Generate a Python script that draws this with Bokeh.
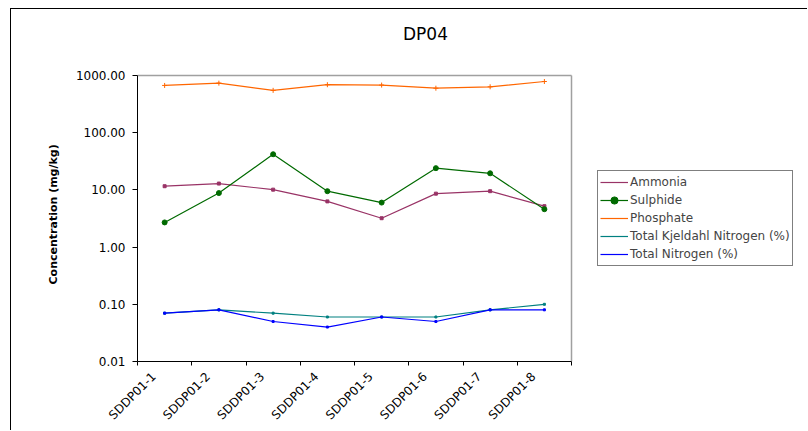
import math
from bokeh.plotting import figure
from bokeh.models import (Range1d, FixedTicker, PrintfTickFormatter, Legend,
                          LegendItem, Label, Title)
from bokeh.embed import file_html
from bokeh.resources import INLINE

categories = ["SDDP01-1", "SDDP01-2", "SDDP01-3", "SDDP01-4",
              "SDDP01-5", "SDDP01-6", "SDDP01-7", "SDDP01-8"]
ammonia = [11.6, 12.9, 10.1, 6.3, 3.2, 8.6, 9.5, 5.2]
sulphide = [2.7, 8.8, 42.0, 9.5, 6.0, 24.0, 19.5, 4.6]
phosphate = [670, 735, 550, 690, 680, 600, 635, 785]
tkn = [0.07, 0.08, 0.07, 0.06, 0.06, 0.06, 0.08, 0.10]
tn = [0.07, 0.08, 0.05, 0.04, 0.06, 0.05, 0.08, 0.08]
y_ticks = [0.01, 0.1, 1, 10, 100, 1000]
title_text = "DP04"
y_title = "Concentration (mg/kg)"

FONT = "DejaVu Sans"
n = len(categories)
xs = [i + 0.5 for i in range(n)]

# layout constants (pixels)
W, H = 797, 422          # canvas, placed at page (11, 9)
LEFT = 126               # canvas x of the plot area's left edge
PLOT_W = 434             # width of the category area
TOP_PAD = 66             # space above the 1000 line
DECADE = 286 / 5         # pixels per decade
x_end = n * (W - LEFT) / PLOT_W
y_end = y_ticks[-1] * 10 ** (TOP_PAD / DECADE)

p = figure(width=W, height=H, output_backend="svg", toolbar_location=None,
           x_range=Range1d(0, x_end), y_range=Range1d(y_ticks[0], y_end),
           y_axis_type="log", min_border_left=LEFT, min_border_right=0,
           min_border_top=0, min_border_bottom=70,
           background_fill_color="white", border_fill_color="white")
p.styles = {"margin-left": "10px", "margin-top": "8px",
            "border-left": "1px solid black", "border-top": "1px solid black"}

p.outline_line_color = None
p.grid.visible = False

# chart title
title = Label(x=n * (425 - 137) / PLOT_W, y=y_ticks[-1] * 10 ** (42 / DECADE),
              text=title_text, text_font=FONT, text_font_size="17px",
              text_color="black", text_align="center", text_baseline="middle")
p.add_layout(title)

# y-axis title, positioned along the 0.01..1000 part of the axis
ytitle = Title(text=y_title, align="left", offset=77, standoff=26,
               text_font=FONT, text_font_size="11px", text_font_style="bold",
               text_color="black")
p.add_layout(ytitle, "left")

# plot-area border (gray) on the top and right of the category area
p.segment(x0=[0, n], y0=[y_ticks[-1], y_ticks[0]], x1=[n, n],
          y1=[y_ticks[-1], y_ticks[-1]], line_color="#a0a0a0", line_width=1.5)

# y axis
p.yaxis.bounds = (y_ticks[0], y_ticks[-1])
p.yaxis.ticker = FixedTicker(ticks=y_ticks, minor_ticks=[])
p.yaxis.formatter = PrintfTickFormatter(format="%.2f")
p.yaxis.major_label_text_font = FONT
p.yaxis.major_label_text_font_size = "12px"
p.yaxis.major_label_text_color = "black"
p.yaxis.major_label_standoff = 7
p.yaxis.major_tick_out = 5
p.yaxis.major_tick_in = 0
p.yaxis.axis_line_color = "black"

# x axis: tick marks at category boundaries, labels near centres
label_pos = [x - 0.2 for x in xs]
p.xaxis.bounds = (0, n)
p.xaxis.ticker = FixedTicker(ticks=label_pos, minor_ticks=list(range(n + 1)))
p.xaxis.major_label_overrides = {x: c for x, c in zip(label_pos, categories)}
p.xaxis.major_label_orientation = math.pi / 4
p.xaxis.major_label_text_font = FONT
p.xaxis.major_label_text_font_size = "12px"
p.xaxis.major_label_text_color = "black"
p.xaxis.major_label_standoff = 9
p.xaxis.major_tick_out = 0
p.xaxis.major_tick_in = 0
p.xaxis.minor_tick_out = 4
p.xaxis.minor_tick_in = 0
p.xaxis.axis_line_color = "black"

series = [
    ("Ammonia", ammonia, "#993366", "square", 3),
    ("Sulphide", sulphide, "#006a00", "circle", 5),
    ("Phosphate", phosphate, "#ff6600", "cross", 5),
    ("Total Kjeldahl Nitrogen (%)", tkn, "#008080", "square", 2),
    ("Total Nitrogen (%)", tn, "#0000ff", "square", 2),
]
items = []
for name, vals, col, mk, sz in series:
    r1 = p.line(xs, vals, line_color=col, line_width=1.2)
    r2 = p.scatter(xs, vals, marker=mk, size=sz, line_color=col, fill_color=col)
    rs = [r1, r2] if mk == "circle" else [r1]
    items.append(LegendItem(label=name, renderers=rs))

legend = Legend(items=items, location=(460, 95), margin=0, padding=2, spacing=0,
                glyph_height=18, label_height=18, glyph_width=28, label_standoff=2,
                label_text_font=FONT, label_text_font_size="12px",
                border_line_color="black", border_line_width=1,
                background_fill_color="white")
p.add_layout(legend, "center")

open("out.html", "w").write(file_html(p, INLINE))
